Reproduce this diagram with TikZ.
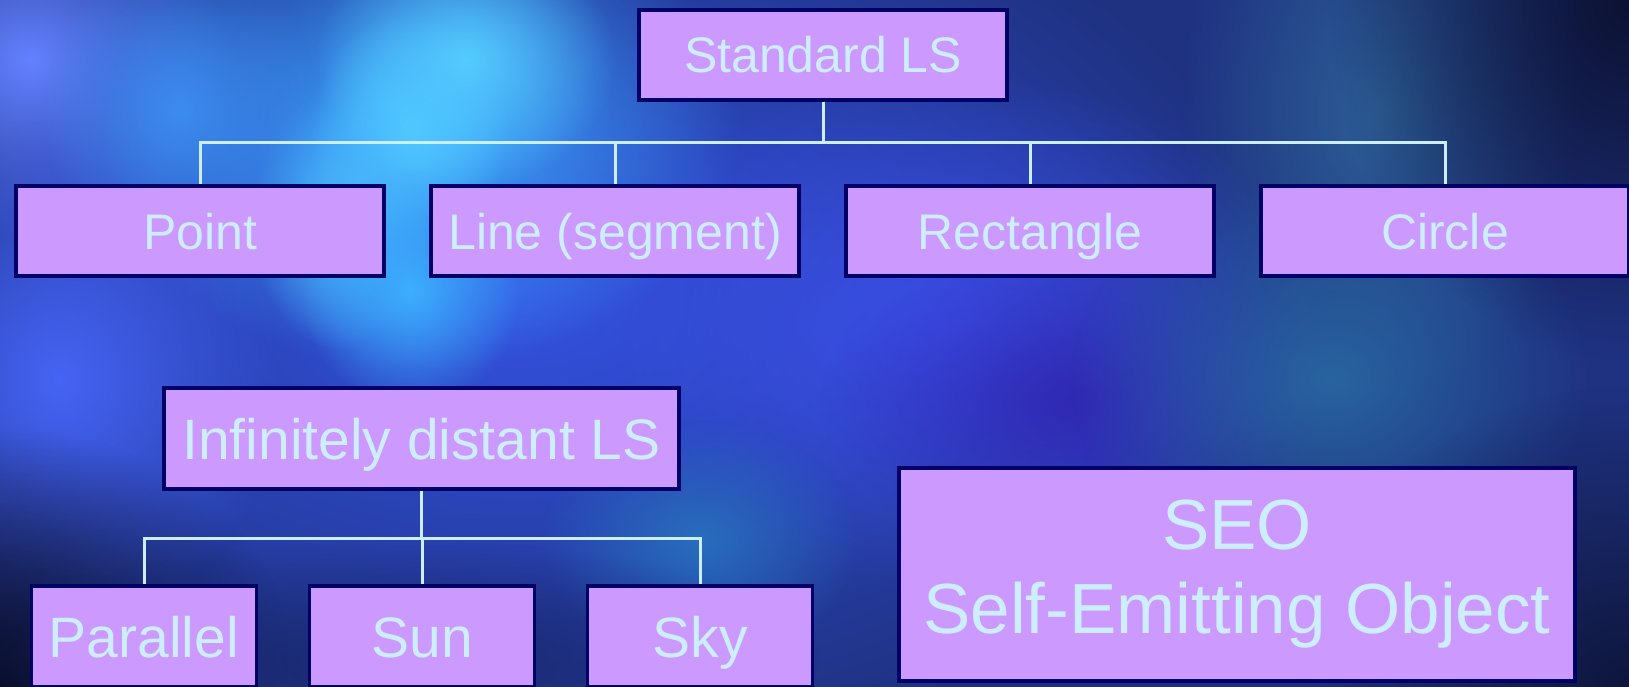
\documentclass[tikz,border=0pt]{standalone}
\usepackage{fontspec}
\setmainfont{Liberation Sans}
\usetikzlibrary{fadings}

\definecolor{boxfill}{HTML}{CC99FF}
\definecolor{boxedge}{HTML}{000066}
\definecolor{labeltext}{HTML}{CCEEFF}
\definecolor{wire}{HTML}{CCEEFF}
\definecolor{skybase}{HTML}{1F3282}

\tikzfading[name=softblob, inner color=transparent!0, outer color=transparent!100]

\tikzset{
  box/.style={draw=boxedge, line width=3.5pt, fill=boxfill, text=labeltext,
    inner sep=0pt, align=center},
  toplevel/.style={box, minimum width=368pt, minimum height=90pt,
    font=\fontsize{50}{60}\selectfont, text height=36pt, text depth=0pt},
  midlevel/.style={box, minimum width=515pt, minimum height=101pt,
    font=\fontsize{57}{68}\selectfont, text height=41pt, text depth=0pt},
  lowlevel/.style={box, minimum width=225pt, minimum height=101pt,
    font=\fontsize{57}{68}\selectfont, text height=41pt, text depth=0pt},
  bigbox/.style={box, minimum width=676pt, minimum height=213pt,
    font=\fontsize{71}{84}\selectfont},
  link/.style={draw=wire, line width=3pt},
  glow/.style={path fading=softblob}
}

\begin{document}
\begin{tikzpicture}[x=1pt,y=-1pt]
\useasboundingbox (0,0) rectangle (1629,687);
\begin{scope}
\clip (0,0) rectangle (1629,687);

% nebula background
\fill[skybase] (0,0) rectangle (1629,687);
% broad blue body
\fill[glow, color={rgb,255:red,52;green,82;blue,225}] (520,300) ellipse (760 and 460);
\fill[glow, color={rgb,255:red,60;green,80;blue,235}] (950,330) ellipse (380 and 260);
% violet-blue hollow in the middle right
\fill[glow, color={rgb,255:red,48;green,40;blue,180}] (1080,400) ellipse (260 and 160);
% lavender corner at top left
\fill[glow, color={rgb,255:red,100;green,130;blue,255}] (30,60) ellipse (200 and 180);
\fill[glow, color={rgb,255:red,70;green,100;blue,245}] (60,380) ellipse (220 and 260);
% cyan streaks of the bright cloud
\fill[glow, color={rgb,255:red,60;green,170;blue,255}] (420,130) ellipse (320 and 240);
\fill[glow, color={rgb,255:red,85;green,205;blue,255}] (465,60) ellipse (150 and 130);
\fill[glow, color={rgb,255:red,80;green,200;blue,255}] (410,130) ellipse (100 and 120);
\fill[glow, color={rgb,255:red,75;green,190;blue,255}] (340,220) ellipse (90 and 130);
\fill[glow, color={rgb,255:red,60;green,175;blue,255}] (410,290) ellipse (110 and 120);
\fill[glow, color={rgb,255:red,60;green,140;blue,240}] (180,110) ellipse (140 and 160);
% teal haze on the right
\fill[glow, color={rgb,255:red,45;green,95;blue,150}] (1380,110) ellipse (200 and 300);
\fill[glow, color={rgb,255:red,40;green,100;blue,160}] (1330,380) ellipse (260 and 200);
\fill[glow, color={rgb,255:red,40;green,110;blue,190}] (700,540) ellipse (160 and 120);
% dark corners
\fill[glow, color={rgb,255:red,10;green,14;blue,42}] (0,687) ellipse (300 and 260);
\fill[glow, color={rgb,255:red,12;green,18;blue,50}] (1629,0) ellipse (300 and 360);
\fill[glow, color={rgb,255:red,14;green,22;blue,60}] (1629,687) ellipse (340 and 300);
\fill[glow, color={rgb,255:red,25;green,40;blue,110}] (400,660) ellipse (420 and 120);

% light sources tree
\node[toplevel] (std) at (823,55) {Standard LS};
\node[toplevel] (pt)  at (200,231)  {Point};
\node[toplevel] (ln)  at (615,231)  {Line (segment)};
\node[toplevel] (rc)  at (1030,231) {Rectangle};
\node[toplevel] (ci)  at (1445,231) {Circle};
\coordinate (busA) at (0,143);
\foreach \c in {pt,ln,rc,ci}
  \draw[link] (std.south) -- (std.south |- busA) -| (\c.north);

\node[midlevel] (inf) at (421.5,438.5) {Infinitely distant LS};
\node[lowlevel] (par) at (144,636.5) {Parallel};
\node[lowlevel] (sun) at (422,636.5) {Sun};
\node[lowlevel] (sky) at (700,636.5) {Sky};
\coordinate (busB) at (0,538);
\foreach \c in {par,sun,sky}
  \draw[link] (inf.south) -- (inf.south |- busB) -| (\c.north);

\node[bigbox] (seo) at (1237,574.5) {SEO\\Self-Emitting Object};
\end{scope}
\end{tikzpicture}
\end{document}
